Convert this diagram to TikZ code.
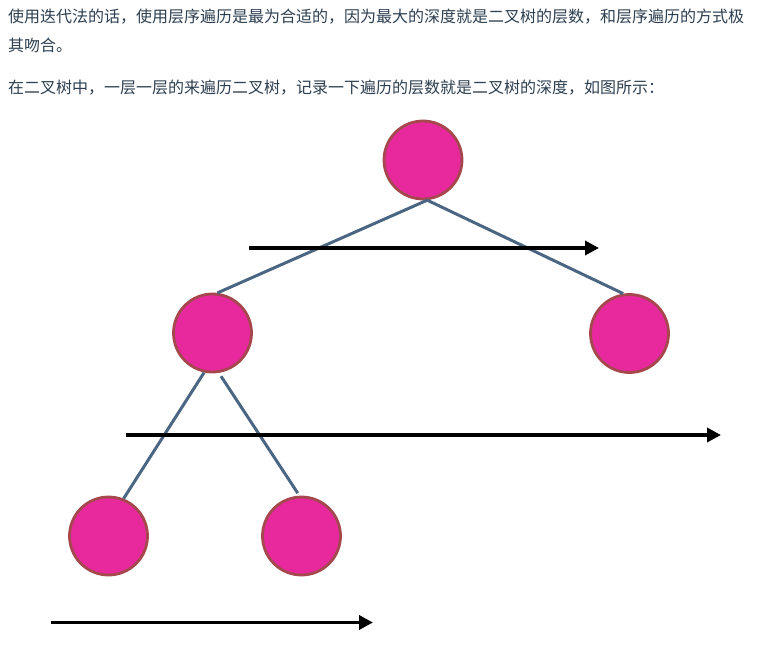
\documentclass[tikz,border=0pt]{standalone}
\usepackage{fontspec}
\newfontfamily\cjk{Noto Sans CJK SC}
\usepackage{tikz}
\usetikzlibrary{arrows.meta}
\usepackage{xcolor}
\definecolor{nodefill}{HTML}{E8299E}
\definecolor{nodeline}{HTML}{A5484D}
\definecolor{edgeblue}{HTML}{4A6682}
\definecolor{textgray}{HTML}{2C3E50}

\begin{document}
\begin{tikzpicture}[x=1pt,y=1pt]
  \tikzset{treevertex/.style={circle,fill=nodefill,draw=nodeline,line width=2.8pt,inner sep=0pt,minimum size=78pt}}
  \tikzset{treeedge/.style={draw=edgeblue,line width=3pt}}
  \tikzset{levelarrow/.style={draw=black,line width=3.5pt,-{Triangle[length=14pt,width=14pt]}}}
  \tikzset{bodyline/.style={font=\cjk\fontsize{16}{20}\selectfont,text=textgray,inner sep=0pt,anchor=west}}
  \useasboundingbox (0,0) rectangle (777,-671);
  \node[bodyline] (t0) at (8.000,-17.000) {使用迭代法的话，使用层序遍历是最为合适的，因为最大的深度就是二叉树的层数，和层序遍历的方式极};
  \node[bodyline] (t1) at (8.000,-45.500) {其吻合。};
  \node[bodyline] (t2) at (8.000,-88.000) {在二叉树中，一层一层的来遍历二叉树，记录一下遍历的层数就是二叉树的深度，如图所示：};
  \node[treevertex] (n0) at (423.000,-160.000) {};
  \node[treevertex] (n1) at (212.500,-333.000) {};
  \node[treevertex] (n2) at (629.500,-333.500) {};
  \node[treevertex] (n3) at (108.500,-536.000) {};
  \node[treevertex] (n4) at (301.500,-536.000) {};
  \draw[treeedge] (n0.-84) -- (n1.83);
  \draw[treeedge] (n0.-84) -- (n2.99);
  \draw[treeedge] (n1.-102) -- (n3.68);
  \draw[treeedge,shorten <=4pt,shorten >=3pt] (n1.-81) -- (n4.93);
  \coordinate (l1s) at (249.000,-248.000);
  \coordinate (l1e) at (599.000,-248.000);
  \coordinate (l2s) at (126.000,-435.000);
  \coordinate (l2e) at (721.000,-435.000);
  \coordinate (l3s) at (51.000,-622.500);
  \coordinate (l3e) at (373.000,-622.500);
  \draw[levelarrow] (l1s) -- (l1e);
  \draw[levelarrow] (l2s) -- (l2e);
  \draw[levelarrow] (l3s) -- (l3e);
\end{tikzpicture}
\end{document}
